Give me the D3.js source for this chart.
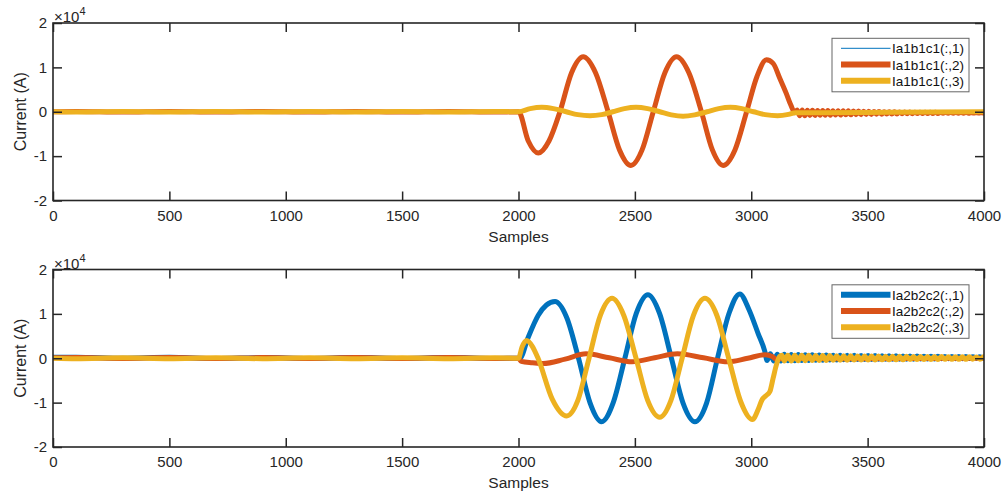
<!DOCTYPE html>
<html><head><meta charset="utf-8">
<script src="https://cdn.jsdelivr.net/npm/d3@7"></script>
<style>
body{margin:0;background:#fff;}
text{font-family:"Liberation Sans",Arial,Helvetica,sans-serif;}
</style>
</head><body>
<svg id="chart" width="1005" height="495"></svg>
<script>
// ---------------- DATA (values in units of 10^4 A) ----------------
const xTicks = [0, 500, 1000, 1500, 2000, 2500, 3000, 3500, 4000];
const yTicks = [-2, -1, 0, 1, 2];
const yExponent = 4;
const xLabel = "Samples";
const yLabel = "Current (A)";
const seriesColors = ["#0072BD", "#D95319", "#EDB120"];

const topNames = ["Ia1b1c1(:,1)", "Ia1b1c1(:,2)", "Ia1b1c1(:,3)"];
const bottomNames = ["Ia2b2c2(:,1)", "Ia2b2c2(:,2)", "Ia2b2c2(:,3)"];

// ----- top panel -----
// series 1 is thin and hidden under the yellow trace
const top1 = [[0,0],[2000,0],[2050,0.06],[2100,0.09],[2150,0.06],[2205,0],[2255,-0.06],[2307,-0.08],[2357,-0.06],[2405,0],[2455,0.06],[2505,0.09],[2555,0.06],[2607,0],[2657,-0.06],[2707,-0.09],[2757,-0.06],[2810,0],[2860,0.06],[2910,0.09],[2960,0.06],[3010,0],[3060,-0.06],[3113,-0.08],[3160,-0.05],[3190,-0.02],[3600,-0.01],[4000,0]];

const top2Pre = [[0,0.0],[100,0.008],[300,-0.008],[500,0.008],[700,-0.008],[900,0.008],[1100,-0.008],[1300,0.008],[1500,-0.008],[1700,0.008],[1900,-0.008],[2000,0.0]];
const top2Fault = [[2042,-0.66],[2085,-0.93],[2131,-0.66],[2178,0],[2228,0.88],[2278,1.24],[2331,0.88],[2385,0],[2434,-0.86],[2483,-1.21],[2531,-0.86],[2579,0],[2629,0.88],[2679,1.24],[2732,0.88],[2786,0],[2833,-0.86],[2879,-1.21],[2930,-0.86],[2980,0],[3025,0.8],[3065,1.17],[3094,1.09],[3123,0.75],[3150,0.42],[3170,0.15],[3187,-0.02]];
const top2TailStart = 3197, top2TailStep = 11;
const top2Tail = [0.04,-0.09,0.04,-0.09,0.035,-0.085,0.035,-0.085,0.03,-0.08,0.03,-0.08,0.03,-0.08,0.025,-0.075,0.025,-0.075,0.02,-0.07,
  0.02,-0.07,0.015,-0.065,0.015,-0.065,0.01,-0.06,0.01,-0.06,0.005,-0.055,0.005,-0.055,0.0,-0.05,0.0,-0.05,0.0,-0.05,
  -0.005,-0.045,-0.005,-0.045,-0.005,-0.045,-0.01,-0.04,-0.01,-0.04,-0.01,-0.04,-0.01,-0.04,-0.01,-0.04,-0.015,-0.035,-0.015,-0.035,
  -0.015,-0.035,-0.015,-0.035,-0.015,-0.035,-0.015,-0.035,-0.02,-0.03,-0.02,-0.03,-0.02,-0.03];

const top3Pre = [[0,0.0],[100,-0.006],[300,0.006],[500,-0.006],[700,0.006],[900,-0.006],[1100,0.006],[1300,-0.006],[1500,0.006],[1700,-0.006],[1900,0.006],[2000,0.0]];
const top3Fault = [[2050,0.07],[2100,0.1],[2150,0.07],[2205,0],[2255,-0.065],[2307,-0.09],[2357,-0.065],[2405,0],[2455,0.07],[2505,0.1],[2555,0.07],[2607,0],[2657,-0.07],[2707,-0.1],[2757,-0.07],[2810,0],[2860,0.07],[2910,0.1],[2960,0.07],[3010,0],[3060,-0.065],[3113,-0.09],[3160,-0.06],[3190,-0.02],[3300,-0.02],[3600,-0.01],[4000,0.0]];

// ----- bottom panel -----
const bot1Pre = [[0,0.02],[100,0.025],[300,0.0],[500,0.02],[700,-0.005],[900,0.015],[1100,-0.005],[1300,0.015],[1500,-0.005],[1700,0.015],[1900,-0.005],[2006,0.0]];
const bot1Fault = [[2040,0.45],[2085,0.97],[2120,1.2],[2157,1.28],[2207,0.92],[2258,0],[2307,-1.0],[2357,-1.43],[2407,-1.0],[2457,0],[2506,1.01],[2556,1.43],[2606,1.01],[2657,0],[2707,-1.01],[2758,-1.43],[2808,-1.01],[2855,0],[2905,1.02],[2951,1.45],[2990,1.1],[3030,0.55],[3058,0.16],[3068,-0.05],[3082,0.1]];
const bot1TailStart = 3097, bot1TailStep = 15;
const bot1Tail = [-0.06,0.09,-0.06,0.09,-0.055,0.085,-0.055,0.085,-0.05,0.08,
  -0.05,0.08,-0.045,0.075,-0.045,0.075,-0.04,0.07,-0.04,0.07,
  -0.035,0.065,-0.035,0.065,-0.03,0.06,-0.03,0.06,-0.03,0.06,
  -0.025,0.055,-0.025,0.055,-0.025,0.055,-0.02,0.05,-0.02,0.05,
  -0.02,0.05,-0.015,0.045,-0.015,0.045,-0.015,0.045,-0.01,0.04,
  -0.01,0.04,-0.01,0.04,-0.01,0.04,-0.005,0.035,-0.005,0.035,0.0];

const bot2Pre = [[0,0.01],[100,0.015],[300,-0.005],[500,0.015],[700,-0.005],[900,0.015],[1100,-0.005],[1300,0.015],[1500,-0.005],[1700,0.015],[1900,-0.005],[2000,0.0]];
const bot2Fault = [[2012,-0.07],[2060,-0.1],[2105,-0.12],[2200,-0.02],[2290,0.1],[2390,0.01],[2488,-0.08],[2585,0.01],[2683,0.1],[2795,0.01],[2900,-0.08],[2985,0.0],[3060,0.08],[3090,0.04],[3110,-0.03],[3140,0.0],[3400,-0.01],[4000,0.0]];

const bot3Pre = [[0,0.0],[100,-0.01],[300,0.01],[500,-0.01],[700,0.01],[900,-0.01],[1100,0.01],[1300,-0.01],[1500,0.01],[1700,-0.01],[1900,0.01],[2000,0.0]];
const bot3Fault = [[2015,0.25],[2035,0.4],[2058,0.28],[2084,0],[2145,-0.92],[2207,-1.3],[2255,-0.95],[2303,0],[2352,0.97],[2402,1.35],[2452,0.97],[2505,0],[2555,-0.95],[2607,-1.33],[2655,-0.95],[2703,0],[2752,0.97],[2801,1.35],[2852,0.97],[2903,0],[2955,-0.98],[3005,-1.38],[3030,-1.15],[3046,-0.94],[3066,-0.83],[3080,-0.75],[3094,-0.45],[3108,-0.15],[3122,0.04],[3132,0.07]];
const bot3TailStart = 3142, bot3TailStep = 15;
const bot3Tail = [-0.06,0.07,-0.06,0.07,-0.055,0.065,-0.055,0.065,-0.05,0.06,
  -0.05,0.06,-0.05,0.06,-0.045,0.055,-0.045,0.055,-0.045,0.055,
  -0.04,0.05,-0.04,0.05,-0.04,0.05,-0.04,0.05,-0.035,0.045,
  -0.035,0.045,-0.035,0.045,-0.035,0.045,-0.03,0.04,-0.03,0.04,
  -0.03,0.04,-0.03,0.04,-0.03,0.04,-0.025,0.035,-0.025,0.035,
  -0.025,0.035,-0.025,0.035,-0.02,0.03,-0.02,0.03];

// ---------------- helpers ----------------
const tailPairs = (start, step, vals) => vals.map((v, i) => [start + i * step, v]);

const topSeries = [
  top1,
  top2Pre.concat(top2Fault, tailPairs(top2TailStart, top2TailStep, top2Tail)),
  top3Pre.concat(top3Fault)
];
const bottomSeries = [
  bot1Pre.concat(bot1Fault, tailPairs(bot1TailStart, bot1TailStep, bot1Tail)),
  bot2Pre.concat(bot2Fault),
  bot3Pre.concat(bot3Fault, tailPairs(bot3TailStart, bot3TailStep, bot3Tail))
];

const svg = d3.select("#chart");
const axisColor = "#262626";
const X0 = 53, X1 = 984;

function panel(id, yTop, yBot, series, names, widths) {
  const g = svg.append("g");
  const x = d3.scaleLinear().domain([0, 4000]).range([X0, X1]);
  const y = d3.scaleLinear().domain([-2, 2]).range([yBot, yTop]);

  svg.append("clipPath").attr("id", "clip" + id)
    .append("rect").attr("x", X0).attr("y", yTop).attr("width", X1 - X0).attr("height", yBot - yTop);

  const line = d3.line().x(d => x(d[0])).y(d => y(d[1])).curve(d3.curveMonotoneX);
  const lg = g.append("g").attr("clip-path", `url(#clip${id})`);
  series.forEach((s, i) => {
    lg.append("path").attr("d", line(s)).attr("fill", "none")
      .attr("stroke", seriesColors[i]).attr("stroke-width", widths[i])
      .attr("stroke-linejoin", "round").attr("stroke-linecap", "round");
  });

  const fmt = d => String(d);
  const ax = g.append("g").attr("transform", `translate(0,${yBot})`)
    .call(d3.axisBottom(x).tickValues(xTicks).tickSize(-9).tickSizeOuter(0).tickPadding(9.5).tickFormat(fmt));
  const axT = g.append("g").attr("transform", `translate(0,${yTop})`)
    .call(d3.axisTop(x).tickValues(xTicks).tickSize(-9).tickSizeOuter(0).tickFormat(""));
  const ay = g.append("g").attr("transform", `translate(${X0},0)`)
    .call(d3.axisLeft(y).tickValues(yTicks).tickSize(-9).tickSizeOuter(0).tickPadding(6).tickFormat(fmt));
  const ayR = g.append("g").attr("transform", `translate(${X1},0)`)
    .call(d3.axisRight(y).tickValues(yTicks).tickSize(-9).tickSizeOuter(0).tickFormat(""));

  [ax, axT, ay, ayR].forEach(a => {
    a.select(".domain").remove();
    a.selectAll(".tick line").attr("stroke", axisColor).attr("stroke-width", 1.5);
    a.selectAll("text").attr("fill", axisColor).style("font-size", "15px")
      .style("font-family", '"Liberation Sans", Arial, sans-serif');
  });

  g.append("rect").attr("x", X0).attr("y", yTop).attr("width", X1 - X0).attr("height", yBot - yTop)
    .attr("fill", "none").attr("stroke", axisColor).attr("stroke-width", 1.6);

  g.append("text").attr("x", (X0 + X1) / 2).attr("y", yBot + 41)
    .attr("text-anchor", "middle").attr("fill", axisColor).style("font-size", "15.5px").text(xLabel);
  g.append("text").attr("transform", `translate(26,${(yTop + yBot) / 2}) rotate(-90)`)
    .attr("text-anchor", "middle").attr("fill", axisColor).style("font-size", "16px").text(yLabel);

  const ex = g.append("text").attr("x", X0 + 1).attr("y", yTop - 1).attr("fill", axisColor).style("font-size", "15px");
  ex.append("tspan").text("\u00d710");
  ex.append("tspan").attr("dy", -7).style("font-size", "11px").text(String(yExponent));

  const lx0 = 832, lx1 = 969, ly0 = yTop + 15.3, lh = 53.5;
  const leg = g.append("g");
  leg.append("rect").attr("x", lx0).attr("y", ly0).attr("width", lx1 - lx0).attr("height", lh)
    .attr("fill", "#fff").attr("stroke", "#666").attr("stroke-width", 1);
  names.forEach((n, i) => {
    const ry = ly0 + 10 + i * 16.2;
    leg.append("line").attr("x1", 841).attr("x2", 890.5).attr("y1", ry).attr("y2", ry)
      .attr("stroke", seriesColors[i]).attr("stroke-width", widths[i] === 1 ? 1 : 6);
    leg.append("text").attr("x", 892).attr("y", ry + 5).attr("fill", "#111")
      .style("font-size", "13.5px").text(n);
  });
}

panel("a", 23, 200.5, topSeries, topNames, [1, 5, 5]);
panel("b", 269.5, 447, bottomSeries, bottomNames, [5, 5, 5]);
</script>
</body></html>
